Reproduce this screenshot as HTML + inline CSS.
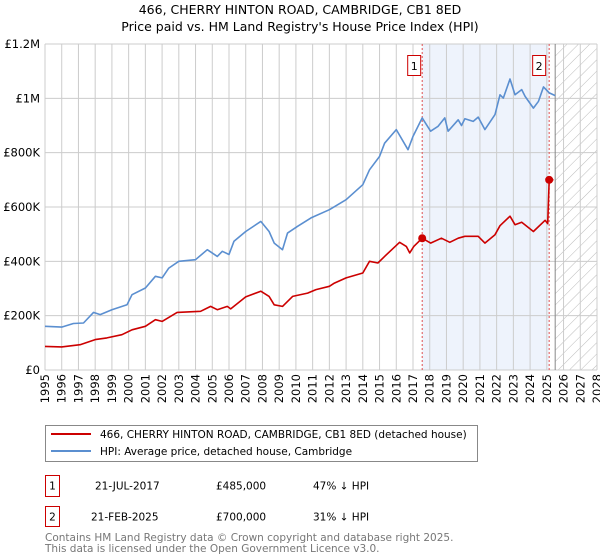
<!DOCTYPE html>
<html><head><meta charset="utf-8"><style>
body{margin:0;background:#fff;font-family:"DejaVu Sans","Liberation Sans",sans-serif;}
svg{display:block}
</style></head><body>
<svg id="c" width="600" height="560" xmlns="http://www.w3.org/2000/svg">
<defs><pattern id="hatch" width="8" height="8" patternUnits="userSpaceOnUse" patternTransform="rotate(45)"><line x1="0" y1="0" x2="0" y2="8" stroke="#bbb" stroke-width="1"/></pattern></defs>
<text x="300" y="14" text-anchor="middle" font-size="12.5" fill="#000">466, CHERRY HINTON ROAD, CAMBRIDGE, CB1 8ED</text>
<text x="300" y="31" text-anchor="middle" font-size="12.5" fill="#000">Price paid vs. HM Land Registry's House Price Index (HPI)</text>
<g id="plot"></g>
<g>
<rect x="45.5" y="425.5" width="432" height="36" fill="#fff" stroke="#888"/>
<line x1="51" y1="434" x2="91" y2="434" stroke="#cc0000" stroke-width="2"/>
<text x="100" y="438" font-size="10.5">466, CHERRY HINTON ROAD, CAMBRIDGE, CB1 8ED (detached house)</text>
<line x1="51" y1="451" x2="91" y2="451" stroke="#5b8fd0" stroke-width="2"/>
<text x="100" y="455" font-size="10.5">HPI: Average price, detached house, Cambridge</text>
</g>
<g font-size="10.5">
<rect x="45.5" y="475.5" width="14" height="21" fill="none" stroke="#cc0000"/>
<text x="52.5" y="489.5" text-anchor="middle">1</text>
<text x="95" y="489.5">21-JUL-2017</text><text x="216" y="489.5">£485,000</text><text x="313" y="489.5">47% ↓ HPI</text>
<rect x="45.5" y="506.5" width="14" height="20" fill="none" stroke="#cc0000"/>
<text x="52.5" y="520.5" text-anchor="middle">2</text>
<text x="91" y="520.5">21-FEB-2025</text><text x="216" y="520.5">£700,000</text><text x="313" y="520.5">31% ↓ HPI</text>
</g>
<text x="45" y="541" font-size="10.5" fill="#777">Contains HM Land Registry data © Crown copyright and database right 2025.</text>
<text x="45" y="552" font-size="10.5" fill="#777">This data is licensed under the Open Government Licence v3.0.</text>
</svg>
<script>
const yTicks=[0,200000,400000,600000,800000,1000000,1200000];
const yTickLabels=["£0","£200K","£400K","£600K","£800K","£1M","£1.2M"];
const hpiYears=[1995,1996,1996.7,1997.3,1997.9,1998.3,1999,1999.9,2000.2,2001,2001.6,2002,2002.4,2003,2004,2004.7,2005.3,2005.6,2006,2006.3,2007,2007.9,2008.4,2008.7,2009.2,2009.5,2010.1,2010.9,2012,2013,2014,2014.4,2015,2015.3,2016,2016.7,2017,2017.55,2018.05,2018.5,2018.9,2019.1,2019.7,2019.9,2020.1,2020.6,2020.9,2021.3,2021.9,2022.2,2022.4,2022.8,2023.1,2023.5,2023.7,2024.2,2024.5,2024.8,2025.15,2025.5];
const hpiValues=[161,158,171,173,212,204,222,240,277,302,345,339,375,400,406,443,418,437,425,474,510,547,510,467,443,504,529,560,590,627,682,737,786,835,885,811,860,928,879,897,928,879,921,900,925,915,931,885,940,1013,1001,1071,1013,1032,1007,964,989,1042,1020,1010];
const priceYears=[1995,1996,1997.1,1998,1998.7,1999.6,2000.2,2001,2001.6,2002,2002.9,2004.3,2004.9,2005.3,2005.9,2006.1,2007,2007.9,2008.4,2008.7,2009.2,2009.8,2010.7,2011.2,2012,2012.3,2013,2014,2014.4,2014.9,2015.3,2016.2,2016.6,2016.8,2017.05,2017.55,2018.05,2018.7,2019.2,2019.7,2020.1,2020.9,2021.3,2021.9,2022.2,2022.8,2023.1,2023.5,2024.2,2024.9,2025.05,2025.14,2025.4];
const priceValues=[87,85,93,112,118,130,148,161,185,179,212,216,234,222,234,225,269,290,271,240,234,271,283,296,308,320,339,357,400,394,418,470,455,431,455,485,467,485,470,485,492,492,467,498,531,566,535,544,510,551,539,700,700];
const saleYears=[2017.55,2025.14];
const saleValues=[485000,700000];
const saleLabels=["1","2"];
const xYears=[];for(let y=1995;y<=2028;y++)xYears.push(y);

const L=45,R=597,T=44,B=370;
const xs=y=>L+(y-1995)/(2028-1995)*(R-L);
const ys=v=>B-v/1200000*(B-T);
const NS="http://www.w3.org/2000/svg";
const g=document.getElementById('plot');
function mk(tag,attrs,parent){const e=document.createElementNS(NS,tag);for(const k in attrs)e.setAttribute(k,attrs[k]);(parent||g).appendChild(e);return e;}

const sh=mk('rect',{x:xs(saleYears[0]),y:T,width:xs(saleYears[1])-xs(saleYears[0]),height:B-T,fill:'#eef3fc'});


const fx=xs(2025.5);
const ht=mk('rect',{x:fx,y:T,width:R-fx,height:B-T,fill:'url(#hatch)'});


xYears.forEach(y=>{
  const l=mk('line',{x1:xs(y),y1:T,x2:xs(y),y2:B,stroke:'#cccccc','stroke-width':1});
  
  
  const t=mk('text',{x:0,y:0,'font-size':11.5,'text-anchor':'end',transform:`translate(${xs(y)+4},374) rotate(-90)`});
  t.textContent=y;
  
  
});
yTicks.forEach((v,i)=>{
  const l=mk('line',{x1:L,y1:ys(v),x2:R,y2:ys(v),stroke:'#cccccc','stroke-width':1});
  
  
  const t=mk('text',{x:40,y:ys(v)+4,'font-size':11.5,'text-anchor':'end'});
  t.textContent=yTickLabels[i];
  
  
});
const fl=mk('line',{x1:fx,y1:T,x2:fx,y2:B,stroke:'#888','stroke-width':1});


saleYears.forEach((y,i)=>{
  const d=mk('line',{x1:xs(y),y1:T,x2:xs(y),y2:B,stroke:'#e05050','stroke-width':1,'stroke-dasharray':'2,2'});
  
  
  const bx=mk('rect',{x:xs(y)-14.5+ (i==0?0:-2),y:55.5,width:13,height:20,fill:'#fff',stroke:'#cc0000'});
  
  
  const t=mk('text',{x:xs(y)-8+(i==0?0:-2),y:70,'font-size':11,'text-anchor':'middle'});
  t.textContent=saleLabels[i];
  
  
});
function path(xsArr,vs,color,name){
  const d=xsArr.map((y,i)=>(i?'L':'M')+xs(y).toFixed(1)+','+ys(vs[i]*1000).toFixed(1)).join('');
  const p=mk('path',{d:d,fill:'none',stroke:color,'stroke-width':1.6,'stroke-linejoin':'round'});
  
  
}
path(hpiYears,hpiValues,'#5b8fd0','hpi-line');
path(priceYears,priceValues,'#cc0000','price-paid-line');
saleYears.forEach((y,i)=>{
  const c=mk('circle',{cx:xs(y),cy:ys(saleValues[i]),r:4,fill:'#cc0000'});
  
  
});
</script>
</body></html>
